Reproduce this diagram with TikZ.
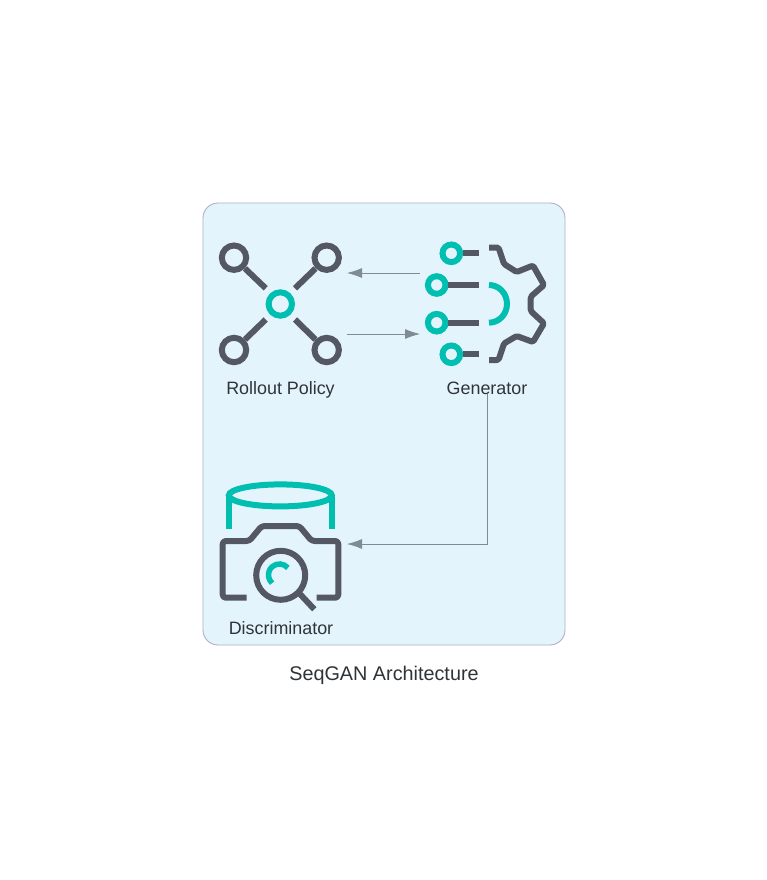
\documentclass[tikz,border=0pt]{standalone}
\usepackage{fontspec}
\setmainfont{Liberation Sans}
\usetikzlibrary{arrows.meta}
\definecolor{panel}{HTML}{E4F4FD}
\definecolor{panelline}{HTML}{A9B4BF}
\definecolor{ink}{HTML}{545764}
\definecolor{teal}{HTML}{00BFB0}
\definecolor{wire}{HTML}{7F8C93}
\definecolor{txt}{HTML}{2F3438}
\tikzset{
  x=1pt,y=-1pt,
  dark/.style={draw=ink,line width=6pt},
  accent/.style={draw=teal,line width=6pt},
  link/.style={draw=wire,line width=0.8pt,-{Latex[length=15pt,width=10pt]}},
  lab/.style={font=\fontsize{17.9}{22}\selectfont,text=txt,inner sep=0pt,anchor=base},
  titlelab/.style={font=\fontsize{19.8}{24}\selectfont,text=txt,inner sep=0pt,anchor=base}
}
\begin{document}
\begin{tikzpicture}
\useasboundingbox (0,0) rectangle (767,880);
\fill[white] (0,0) rectangle (767,880);
\node[draw=panelline,fill=panel,line width=0.9pt,rounded corners=15pt,minimum width=362pt,minimum height=442pt,inner sep=0pt] (panel) at (384,424) {};
% Rollout Policy icon
\draw[dark] (234,257.7) circle[radius=12.2];
\draw[dark] (326.7,257.7) circle[radius=12.2];
\draw[dark] (234,350) circle[radius=12.2];
\draw[dark] (326.7,350) circle[radius=12.2];
\draw[accent] (280.3,304) circle[radius=11.7];
\draw[dark] (245,268.5) -- (265.7,288.3);
\draw[dark] (315.5,268.5) -- (295,288.3);
\draw[dark] (245,339.5) -- (265.7,319.5);
\draw[dark] (315.5,339.5) -- (295,319.5);
% Generator icon
\draw[accent] (451.3,253.3) circle[radius=8.8];
\draw[accent] (436.7,285) circle[radius=8.8];
\draw[accent] (436.7,322.7) circle[radius=8.8];
\draw[accent] (451.3,354.3) circle[radius=8.8];
\draw[dark] (462.7,253.3) -- (478.7,253.3);
\draw[dark] (447.7,285) -- (478.7,285);
\draw[dark] (447.7,322.7) -- (478.7,322.7);
\draw[dark] (462.7,354.3) -- (478.7,354.3);
\draw[dark,line join=round,rounded corners=1.5pt] (489,247.5) -- (498.5,247.5) -- (504,264) -- (516.7,272) -- (533,265.5) -- (544,285) -- (530.7,296.7) -- (530.7,311) -- (544,323.3) -- (533,342) -- (516.7,336) -- (504,343.5) -- (498.5,360) -- (489,360);
\draw[accent] (489,285) arc[start angle=-90,end angle=90,x radius=18,y radius=18.85];
% Discriminator icon
\draw[accent] (280.3,495.4) ellipse[x radius=51.5,y radius=11];
\draw[accent] (229.3,495.4) -- (229.3,529.3);
\draw[accent] (332,495.4) -- (332,529.3);
\draw[dark,line join=round,rounded corners=3pt] (246.7,597.7) -- (222.7,597.7) -- (222.7,541) -- (249.3,541) -- (261.7,526) -- (299.3,526) -- (311.7,541) -- (338.3,541) -- (338.3,597.7) -- (316.7,597.7);
\draw[dark] (280.7,575.3) circle[radius=24.5];
\draw[dark] (299,593) -- (314.3,609.3);
\draw[accent,line width=5.5pt] (287.9,567.9) arc[start angle=-40,end angle=-228,radius=11];
% Labels
\node[lab] (rolloutlab) at (280.5,394) {Rollout Policy};
\node[lab] (generatorlab) at (487,394) {Generator};
\node[lab] (discriminatorlab) at (281,634) {Discriminator};
\node[titlelab] (title) at (384,680) {SeqGAN Architecture};
% Connector ends
\coordinate (genout) at (420,273);
\coordinate (rollin) at (347,273);
\coordinate (rollout) at (347,334);
\coordinate (genin) at (420,334);
\coordinate (genbottom) at (487.5,394);
\coordinate (discin) at (347,544);
\draw[link] (genout) -- (rollin);
\draw[link] (rollout) -- (genin);
\draw[link] (genbottom) |- (discin);
\end{tikzpicture}
\end{document}
